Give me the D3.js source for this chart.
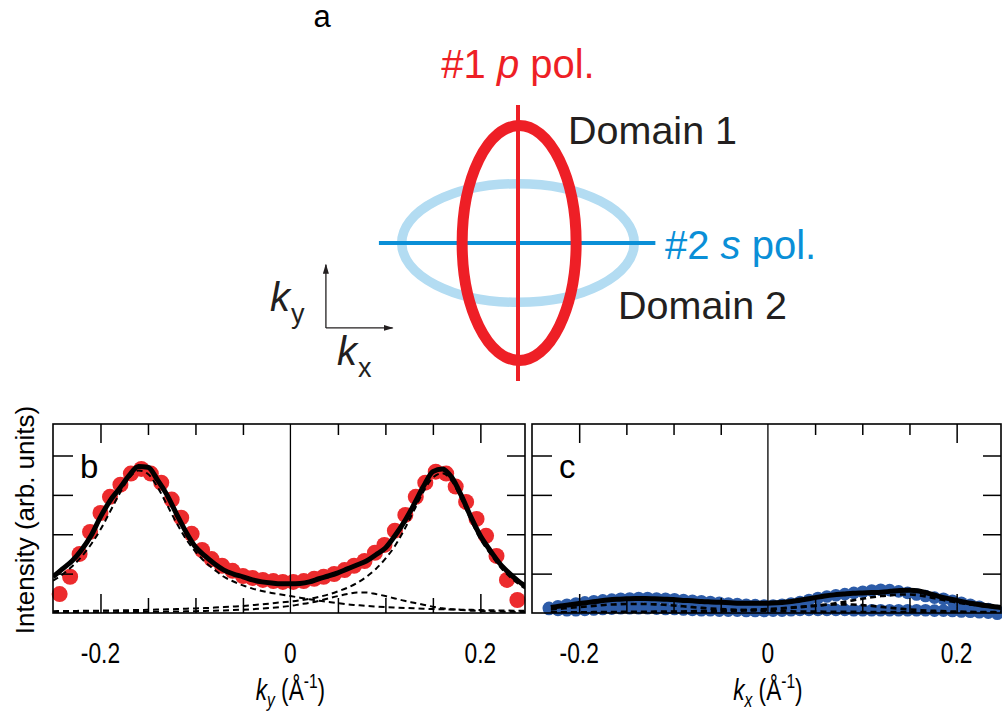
<!DOCTYPE html>
<html>
<head>
<meta charset="utf-8">
<script src="https://cdn.jsdelivr.net/npm/d3@7"></script>
<style>
  body { margin: 0; background: #fff; }
  svg { display: block; }
  text { font-family: "Liberation Sans", Arial, sans-serif; }
</style>
</head>
<body>
<svg id="fig"></svg>
<script>
// ---------- data ----------
// common k grid for the fitted curves (1/Å)
const kGrid = [-0.25, -0.24, -0.23, -0.22, -0.21, -0.20, -0.19, -0.18, -0.17, -0.16,
  -0.15, -0.14, -0.13, -0.12, -0.11, -0.10, -0.09, -0.08, -0.07, -0.06,
  -0.05, -0.04, -0.03, -0.02, -0.01, 0, 0.01, 0.02, 0.03, 0.04,
  0.05, 0.06, 0.07, 0.08, 0.09, 0.10, 0.11, 0.12, 0.13, 0.14,
  0.15, 0.16, 0.17, 0.18, 0.19, 0.20, 0.21, 0.22, 0.23, 0.24, 0.25]

// panel b (p pol., along ky)
const dotsBk = [-0.243, -0.232, -0.222, -0.211, -0.200, -0.190, -0.179, -0.168, -0.157, -0.147,
  -0.136, -0.125, -0.115, -0.104, -0.093, -0.083, -0.072, -0.061, -0.050, -0.040,
  -0.029, -0.018, -0.008, 0.003, 0.014, 0.025, 0.035, 0.046, 0.057, 0.067,
  0.078, 0.089, 0.099, 0.110, 0.121, 0.132, 0.142, 0.153, 0.164, 0.174,
  0.185, 0.196, 0.206, 0.217, 0.228, 0.239]
const dotsBy = [0.48, 0.92, 1.50, 2.06, 2.54, 2.95, 3.26, 3.54, 3.66, 3.54,
  3.31, 2.88, 2.42, 2.01, 1.60, 1.37, 1.20, 1.07, 0.94, 0.89,
  0.84, 0.81, 0.79, 0.79, 0.81, 0.87, 0.92, 0.99, 1.09, 1.20,
  1.32, 1.53, 1.73, 2.09, 2.49, 2.95, 3.31, 3.59, 3.54, 3.21,
  2.82, 2.39, 1.96, 1.45, 0.84, 0.33]
const fitB = [0.92, 1.12, 1.32, 1.60, 1.96, 2.44, 2.85, 3.16, 3.49, 3.72,
  3.70, 3.38, 3.00, 2.52, 2.06, 1.68, 1.45, 1.25, 1.09, 0.99,
  0.92, 0.84, 0.79, 0.76, 0.74, 0.74, 0.75, 0.79, 0.87, 0.94,
  1.02, 1.12, 1.22, 1.32, 1.48, 1.65, 1.96, 2.32, 2.75, 3.21,
  3.59, 3.66, 3.44, 2.98, 2.44, 1.96, 1.60, 1.27, 1.02, 0.81, 0.64]
const peakB1 = [0.82, 0.98, 1.18, 1.43, 1.74, 2.12, 2.57, 3.03, 3.42, 3.62,
  3.53, 3.20, 2.75, 2.29, 1.88, 1.56, 1.30, 1.10, 0.92, 0.80,
  0.70, 0.62, 0.56, 0.51, 0.47, 0.43, 0.39, 0.35, 0.31, 0.28,
  0.25, 0.22, 0.20, 0.18, 0.165, 0.15, 0.14, 0.13, 0.12, 0.11,
  0.10, 0.095, 0.09, 0.085, 0.08, 0.075, 0.07, 0.066, 0.062, 0.058, 0.055]
const peakB2 = [0.047, 0.05, 0.052, 0.055, 0.058, 0.06, 0.064, 0.067, 0.071, 0.076,
  0.081, 0.087, 0.093, 0.10, 0.11, 0.114, 0.125, 0.137, 0.15, 0.165,
  0.18, 0.20, 0.22, 0.245, 0.27, 0.29, 0.32, 0.36, 0.41, 0.47,
  0.55, 0.64, 0.76, 0.92, 1.12, 1.38, 1.70, 2.12, 2.60, 3.08,
  3.44, 3.55, 3.35, 2.89, 2.35, 1.87, 1.52, 1.19, 0.94, 0.74, 0.58]
const peakB3 = [0.014, 0.015, 0.016, 0.017, 0.019, 0.020, 0.021, 0.023, 0.025, 0.027,
  0.029, 0.032, 0.035, 0.038, 0.042, 0.047, 0.052, 0.058, 0.065, 0.074,
  0.084, 0.097, 0.112, 0.131, 0.153, 0.18, 0.22, 0.26, 0.31, 0.37,
  0.43, 0.48, 0.52, 0.52, 0.48, 0.43, 0.37, 0.31, 0.26, 0.21,
  0.16, 0.12, 0.095, 0.075, 0.06, 0.05, 0.042, 0.036, 0.031, 0.027, 0.024]

// panel c (s pol., along kx)
const dotsCk = [-0.232, -0.2225, -0.213, -0.2035, -0.194, -0.1845, -0.175, -0.1655, -0.156, -0.1465,
  -0.137, -0.1275, -0.118, -0.1085, -0.099, -0.0895, -0.08, -0.0705, -0.061, -0.0515,
  -0.042, -0.0325, -0.023, -0.0135, -0.004, 0.0055, 0.015, 0.0245, 0.034, 0.0435,
  0.053, 0.0625, 0.072, 0.0815, 0.091, 0.1005, 0.11, 0.1195, 0.129, 0.1385,
  0.148, 0.1575, 0.167, 0.1765, 0.186, 0.1955, 0.205, 0.2145, 0.224, 0.2335, 0.243]
const dotsCy = [0.13, 0.17, 0.21, 0.24, 0.27, 0.30, 0.32, 0.34, 0.36, 0.37,
  0.38, 0.38, 0.37, 0.36, 0.35, 0.33, 0.31, 0.30, 0.28, 0.26,
  0.24, 0.23, 0.21, 0.20, 0.19, 0.19, 0.21, 0.24, 0.28, 0.33,
  0.38, 0.42, 0.45, 0.48, 0.51, 0.54, 0.57, 0.59, 0.58, 0.55,
  0.51, 0.47, 0.43, 0.39, 0.36, 0.31, 0.26, 0.21, 0.16, 0.10, 0.05]
const dotsCy2 = [0.10, 0.08, 0.07, 0.07, 0.08, 0.09, 0.10, 0.11, 0.12, 0.12,
  0.12, 0.12, 0.11, 0.10, 0.10, 0.09, 0.08, 0.07, 0.07, 0.06,
  0.06, 0.06, 0.05, 0.05, 0.05, 0.06, 0.06, 0.07, 0.08, 0.08,
  0.08, 0.08, 0.08, 0.08, 0.07, 0.07, 0.07, 0.07, 0.07, 0.07,
  0.07, 0.07, 0.07, 0.06, 0.06, 0.05, 0.04, 0.03, 0.02, 0.01, -0.02]
const fitC = [null, null, 0.14, 0.18, 0.21, 0.24, 0.27, 0.30, 0.33, 0.35,
  0.36, 0.37, 0.37, 0.36, 0.35, 0.34, 0.32, 0.31, 0.29, 0.28,
  0.27, 0.26, 0.25, 0.25, 0.25, 0.25, 0.26, 0.28, 0.31, 0.35,
  0.39, 0.43, 0.46, 0.48, 0.50, 0.51, 0.52, 0.53, 0.55, 0.57,
  0.58, 0.56, 0.50, 0.43, 0.37, 0.32, 0.27, 0.23, 0.19, 0.16, 0.13]
const peakC1 = [null, null, 0.09, 0.11, 0.13, 0.15, 0.17, 0.19, 0.21, 0.22,
  0.23, 0.23, 0.23, 0.22, 0.21, 0.19, 0.17, 0.15, 0.13, 0.11,
  0.10, 0.09, 0.08, 0.07, 0.06, 0.055, 0.05, 0.045, 0.04, 0.038,
  0.035, 0.033, 0.031, 0.03, 0.028, 0.027, 0.026, 0.025, 0.024, 0.023,
  0.022, 0.021, 0.02, 0.02, 0.019, 0.018, 0.018, 0.017, 0.017, 0.016, 0.016]
const peakC2 = [null, null, 0.02, 0.02, 0.02, 0.02, 0.02, 0.025, 0.025, 0.025,
  0.03, 0.03, 0.03, 0.035, 0.035, 0.04, 0.04, 0.045, 0.05, 0.055,
  0.06, 0.065, 0.07, 0.08, 0.09, 0.10, 0.11, 0.12, 0.14, 0.16,
  0.18, 0.21, 0.24, 0.28, 0.32, 0.36, 0.40, 0.43, 0.45, 0.47,
  0.47, 0.45, 0.41, 0.36, 0.31, 0.27, 0.23, 0.20, 0.17, 0.14, 0.12]
const peakC3 = [null, null, 0.01, 0.01, 0.01, 0.01, 0.01, 0.012, 0.012, 0.013,
  0.014, 0.015, 0.016, 0.018, 0.02, 0.022, 0.025, 0.028, 0.032, 0.036,
  0.042, 0.05, 0.06, 0.07, 0.08, 0.095, 0.11, 0.13, 0.15, 0.17,
  0.19, 0.205, 0.215, 0.22, 0.215, 0.20, 0.18, 0.155, 0.13, 0.11,
  0.09, 0.075, 0.06, 0.05, 0.042, 0.036, 0.031, 0.027, 0.024, 0.021, 0.019]

const xTickMajor = [-0.2, 0, 0.2]
const xTickLabels = ['-0.2', '0', '0.2']
const xTickMinor = [-0.15, -0.1, -0.05, 0.05, 0.1, 0.15]
const yTicks = [1, 2, 3, 4]

// ---------- layout ----------
const W = 1002, H = 713
const kDomain = [-0.25, 0.247]
const yDomain = [0, 4.8]
const plotTop = 424, plotBottom = 613
const dark = '#231f20'

const svg = d3.select('#fig').attr('width', W).attr('height', H)
  .attr('viewBox', [0, 0, W, H])

// ---------- panel a: schematic ----------
const sx = d3.scaleLinear().domain([-1, 1]).range([518 - 57, 518 + 57])
const sy = d3.scaleLinear().domain([-1, 1]).range([243 + 57, 243 - 57])
const a = svg.append('g')

a.append('ellipse')
  .attr('cx', sx(0)).attr('cy', sy(0))
  .attr('rx', sx(2.04) - sx(0)).attr('ry', sy(0) - sy(1.04))
  .attr('fill', 'none').attr('stroke', '#b3dcf2').attr('stroke-width', 9.5)
a.append('line')
  .attr('x1', sx(-2.44)).attr('x2', sx(2.41)).attr('y1', sy(0)).attr('y2', sy(0))
  .attr('stroke', '#0a8fd7').attr('stroke-width', 4)
a.append('ellipse')
  .attr('cx', sx(0.02)).attr('cy', sy(0))
  .attr('rx', sx(1.0) - sx(0)).attr('ry', sy(0) - sy(2.06))
  .attr('fill', 'none').attr('stroke', '#ee1f26').attr('stroke-width', 11)
a.append('line')
  .attr('x1', sx(0)).attr('x2', sx(0)).attr('y1', sy(2.42)).attr('y2', sy(-2.42))
  .attr('stroke', '#ee1f26').attr('stroke-width', 4)

// little kx / ky axes
const defs = svg.append('defs')
defs.append('marker').attr('id', 'arr').attr('viewBox', '0 0 10 6')
  .attr('refX', 9).attr('refY', 3).attr('markerWidth', 10).attr('markerHeight', 6)
  .attr('markerUnits', 'userSpaceOnUse').attr('orient', 'auto')
  .append('path').attr('d', 'M0,0L10,3L0,6Z').attr('fill', dark)
a.append('line')
  .attr('x1', sx(-3.37)).attr('x2', sx(-3.37)).attr('y1', sy(-1.49)).attr('y2', sy(-0.38))
  .attr('stroke', dark).attr('stroke-width', 1.3).attr('marker-end', 'url(#arr)')
a.append('line')
  .attr('x1', sx(-3.37)).attr('x2', sx(-2.2)).attr('y1', sy(-1.49)).attr('y2', sy(-1.49))
  .attr('stroke', dark).attr('stroke-width', 1.3).attr('marker-end', 'url(#arr)')

const kLab = (x, y, sub) => {
  const t = a.append('text').attr('x', x).attr('y', y).attr('fill', dark).attr('font-size', 40)
  t.append('tspan').attr('font-style', 'italic').text('k')
  t.append('tspan').attr('font-size', 27).attr('dx', 1).attr('dy', 12).text(sub)
}
kLab(270, 311, 'y')
kLab(337, 365, 'x')

a.append('text').attr('x', 322).attr('y', 27).attr('text-anchor', 'middle')
  .attr('font-size', 31).attr('fill', '#000').text('a')

const p1 = a.append('text').attr('x', 518).attr('y', 78).attr('text-anchor', 'middle')
  .attr('font-size', 40).attr('fill', '#ee1f26')
p1.append('tspan').text('#1 ')
p1.append('tspan').attr('font-style', 'italic').text('p')
p1.append('tspan').text(' pol.')

const p2 = a.append('text').attr('x', 665).attr('y', 259)
  .attr('font-size', 40).attr('fill', '#0a8fd7')
p2.append('tspan').text('#2 ')
p2.append('tspan').attr('font-style', 'italic').text('s')
p2.append('tspan').text(' pol.')

a.append('text').attr('x', 568).attr('y', 144).attr('font-size', 39.5).attr('fill', dark).text('Domain 1')
a.append('text').attr('x', 618).attr('y', 319).attr('font-size', 39.5).attr('fill', dark).text('Domain 2')

// ---------- panels b and c ----------
function drawPanel({ x0, x1, label, sets, dotR, fit, peaks, dashW, axisSub }) {
  const g = svg.append('g')
  const x = d3.scaleLinear().domain(kDomain).range([x0, x1])
  const y = d3.scaleLinear().domain(yDomain).range([plotBottom, plotTop])

  for (const s of sets) {
    g.append('g').selectAll('circle')
      .data(d3.range(s.k.length))
      .join('circle')
        .attr('cx', i => x(s.k[i]))
        .attr('cy', i => y(s.v[i]))
        .attr('r', dotR)
        .attr('fill', s.color)
  }

  const clipId = 'clip' + label
  g.append('clipPath').attr('id', clipId)
    .append('rect').attr('x', x0).attr('y', plotTop).attr('width', x1 - x0).attr('height', plotBottom - plotTop)

  const line = vals => d3.line()
    .defined(i => vals[i] != null)
    .curve(d3.curveMonotoneX)
    .x(i => x(kGrid[i]))
    .y(i => y(vals[i]))(d3.range(kGrid.length))

  const lines = g.append('g').attr('clip-path', `url(#${clipId})`)
  for (const p of peaks) {
    lines.append('path').attr('d', line(p))
      .attr('fill', 'none').attr('stroke', '#000')
      .attr('stroke-width', dashW).attr('stroke-dasharray', '6,4')
  }
  lines.append('path').attr('d', line(fit))
    .attr('fill', 'none').attr('stroke', '#000')
    .attr('stroke-width', 5).attr('stroke-linejoin', 'round')

  // frame, zero line, ticks
  g.append('rect').attr('x', x0).attr('y', plotTop)
    .attr('width', x1 - x0).attr('height', plotBottom - plotTop)
    .attr('fill', 'none').attr('stroke', '#000').attr('stroke-width', 1.6)
  g.append('line').attr('x1', x(0)).attr('x2', x(0)).attr('y1', plotTop).attr('y2', plotBottom)
    .attr('stroke', '#000').attr('stroke-width', 1.3)

  const tick = (axis, tr) => g.append('g').attr('transform', tr).call(axis)
    .call(s => s.select('.domain').remove())
    .call(s => s.selectAll('.tick line').attr('stroke-width', 1.5))
  tick(d3.axisBottom(x).tickValues(xTickMinor).tickSize(11).tickFormat(''), `translate(0,${plotTop})`)
  tick(d3.axisBottom(x).tickValues([-0.2, 0.2]).tickSize(19).tickFormat(''), `translate(0,${plotTop})`)
  tick(d3.axisTop(x).tickValues(xTickMinor).tickSize(15).tickFormat(''), `translate(0,${plotBottom})`)
  tick(d3.axisTop(x).tickValues([-0.2, 0.2]).tickSize(19).tickFormat(''), `translate(0,${plotBottom})`)
  tick(d3.axisRight(y).tickValues(yTicks).tickSize(20).tickFormat(''), `translate(${x0},0)`)
  tick(d3.axisLeft(y).tickValues(yTicks).tickSize(18).tickFormat(''), `translate(${x1},0)`)

  // tick labels (narrow face)
  xTickMajor.forEach((v, i) => {
    g.append('g').attr('transform', `translate(${x(v)},663) scale(0.76,1)`)
      .append('text').attr('text-anchor', 'middle').attr('font-size', 30).attr('fill', '#000')
      .text(xTickLabels[i])
  })

  // axis title
  const t = g.append('g').attr('transform', `translate(${x(0)},700) scale(0.78,1)`)
    .append('text').attr('text-anchor', 'middle').attr('font-size', 29).attr('fill', '#000')
  t.append('tspan').attr('font-style', 'italic').text('k')
  t.append('tspan').attr('font-style', 'italic').attr('font-size', 20).attr('dy', 7).text(axisSub)
  t.append('tspan').attr('dy', -7).text(' (Å')
  t.append('tspan').attr('font-size', 20).attr('dy', -12).text('-1')
  t.append('tspan').attr('dy', 12).text(')')

  g.append('text').attr('x', x0 + 27).attr('y', 478).attr('font-size', 33).attr('fill', '#000').text(label)
}

drawPanel({
  x0: 53, x1: 525, label: 'b', dotR: 8, dashW: 2,
  sets: [{ k: dotsBk, v: dotsBy, color: '#ec2b2d' }],
  fit: fitB, peaks: [peakB1, peakB2, peakB3], axisSub: 'y'
})
drawPanel({
  x0: 532, x1: 1001, label: 'c', dotR: 6.3, dashW: 2.6,
  sets: [{ k: dotsCk, v: dotsCy2, color: '#2d5ca8' }, { k: dotsCk, v: dotsCy, color: '#2d5ca8' }],
  fit: fitC, peaks: [peakC1, peakC2, peakC3], axisSub: 'x'
})

svg.append('text')
  .attr('transform', `translate(34,520) rotate(-90)`)
  .attr('text-anchor', 'middle').attr('font-size', 26).attr('fill', '#000')
  .text('Intensity (arb. units)')
</script>
</body>
</html>
